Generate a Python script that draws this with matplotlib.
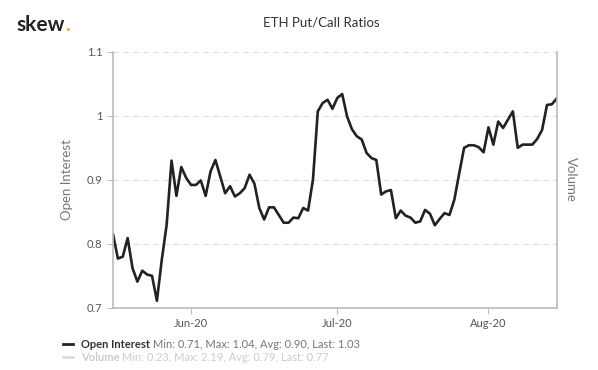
import matplotlib
matplotlib.use("Agg")
import matplotlib.pyplot as plt
import matplotlib.dates as mdates
from matplotlib.lines import Line2D
from matplotlib.ticker import FuncFormatter
import pandas as pd

plt.rcParams["font.family"] = ["Lato", "DejaVu Sans"]

# daily put/call ratio (open interest)
dates = pd.date_range("2020-05-16", "2020-08-15", freq="D")
open_interest = [
    0.815, 0.777, 0.780, 0.809, 0.762, 0.741, 0.758, 0.752, 0.750, 0.711,
    0.775, 0.830, 0.930, 0.875, 0.920, 0.903, 0.892, 0.892, 0.899, 0.875,
    0.913, 0.931, 0.905, 0.879, 0.890, 0.874, 0.879, 0.887, 0.908, 0.894,
    0.856, 0.838, 0.857, 0.857, 0.845, 0.833, 0.833, 0.841, 0.840, 0.856,
    0.852, 0.900, 1.007, 1.020, 1.025, 1.011, 1.028, 1.034, 0.999, 0.979,
    0.968, 0.963, 0.942, 0.934, 0.931, 0.877, 0.882, 0.884, 0.840, 0.852,
    0.844, 0.841, 0.833, 0.835, 0.853, 0.847, 0.829, 0.839, 0.848, 0.845,
    0.869, 0.910, 0.950, 0.954, 0.954, 0.951, 0.943, 0.982, 0.955, 0.991,
    0.981, 0.994, 1.007, 0.950, 0.955, 0.955, 0.955, 0.964, 0.978, 1.017,
    1.018, 1.027,
]
y_ticks = [0.7, 0.8, 0.9, 1.0, 1.1]
x_ticks = pd.to_datetime(["2020-06-01", "2020-07-01", "2020-08-01"])

oi_stats = " Min: 0.71, Max: 1.04, Avg: 0.90, Last: 1.03"
vol_stats = " Min: 0.23, Max: 2.19, Avg: 0.79, Last: 0.77"

tick_color = "#555555"
spine_color = "#bbbbbb"

fig = plt.figure(figsize=(5.98, 3.70), dpi=100)
ax = fig.add_axes([0.189, 0.168, 0.742, 0.692])

ax.plot(dates, open_interest, color="#222222", lw=1.9, solid_joinstyle="round")

ax.set_ylim(0.7, 1.1)
ax.set_yticks(y_ticks)
ax.yaxis.set_major_formatter(FuncFormatter(lambda v, _: f"{v:g}"))
ax.set_xlim(dates[0], dates[-1])
ax.set_xticks(x_ticks)
ax.xaxis.set_major_formatter(mdates.DateFormatter("%b-%y"))

ax.grid(axis="y", color="#dddddd", lw=0.8, ls=(0, (5, 4)))
ax.set_axisbelow(True)
for side in ["left", "right", "bottom"]:
    ax.spines[side].set_color(spine_color)
    ax.spines[side].set_linewidth(1.2)
ax.spines["top"].set_visible(False)
ax.tick_params(colors=tick_color, labelsize=8, length=4, width=0.8)
ax.tick_params(axis="both", color=spine_color)
ax.set_ylabel("Open Interest", color="#777777", fontsize=9.5, labelpad=10)

fig.text(0.955, 0.515, "Volume", color="#777777", fontsize=9.5,
         rotation=-90, ha="center", va="center")

fig.text(0.537, 0.94, "ETH Put/Call Ratios", color="#333333", fontsize=9.5,
         ha="center", va="center")

# skew logo with orange dot
logo = fig.text(0.028, 0.932, "skew", color="#222222", fontsize=15,
                fontweight="bold", va="center")
plt.annotate(".", xy=(1, 0), xycoords=logo, va="bottom",
             color="#f5a623", fontsize=15, fontweight="bold")

# legend rows
fig.add_artist(Line2D([0.105, 0.122], [0.070, 0.070], color="#222222", lw=2,
                      transform=fig.transFigure))
fig.add_artist(Line2D([0.105, 0.122], [0.035, 0.035], color="#dddddd", lw=2,
                      transform=fig.transFigure))
t1 = fig.text(0.135, 0.070, "Open Interest", color="#333333", fontsize=8,
              fontweight="bold", va="center")
plt.annotate(oi_stats, xy=(1, 0), xycoords=t1, va="bottom",
             color="#777777", fontsize=8)
t2 = fig.text(0.135, 0.035, "Volume", color="#cccccc", fontsize=8,
              fontweight="bold", va="center")
plt.annotate(vol_stats, xy=(1, 0), xycoords=t2, va="bottom",
             color="#cccccc", fontsize=8)

fig.savefig("out.png", dpi=100)
